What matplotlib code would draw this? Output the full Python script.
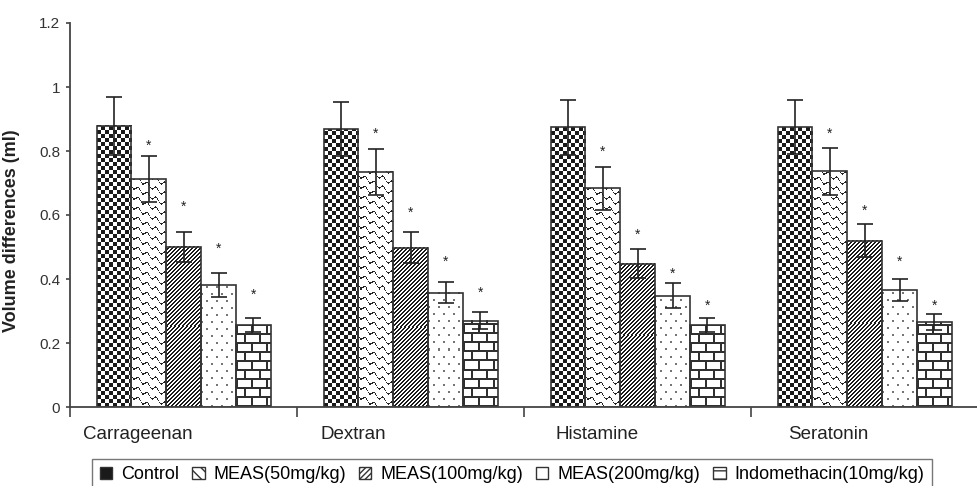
import numpy as np
import matplotlib
matplotlib.use("Agg")
import matplotlib.pyplot as plt
from matplotlib.colors import LinearSegmentedColormap
from matplotlib.patches import Rectangle

plt.rcParams['font.family'] = ['Liberation Sans', 'DejaVu Sans']
plt.rcParams['hatch.linewidth'] = 1.0

categories = ["Carrageenan", "Dextran", "Histamine", "Seratonin"]
series = ["Control", "MEAS(50mg/kg)", "MEAS(100mg/kg)", "MEAS(200mg/kg)",
          "Indomethacin(10mg/kg)"]

control = [0.879, 0.868, 0.874, 0.875]
meas50 = [0.712, 0.735, 0.683, 0.736]
meas100 = [0.501, 0.498, 0.448, 0.520]
meas200 = [0.381, 0.357, 0.348, 0.366]
indo = [0.256, 0.270, 0.256, 0.265]

err_control = [0.090, 0.085, 0.086, 0.084]
err_meas50 = [0.072, 0.071, 0.066, 0.074]
err_meas100 = [0.047, 0.048, 0.045, 0.052]
err_meas200 = [0.038, 0.033, 0.038, 0.034]
err_indo = [0.023, 0.026, 0.023, 0.025]

# where the significance stars sit (no star on control)
star_meas50 = [0.828, 0.866, 0.808, 0.866]
star_meas100 = [0.638, 0.618, 0.548, 0.624]
star_meas200 = [0.506, 0.465, 0.428, 0.465]
star_indo = [0.363, 0.369, 0.327, 0.327]

values = [control, meas50, meas100, meas200, indo]
errors = [err_control, err_meas50, err_meas100, err_meas200, err_indo]
stars = [None, star_meas50, star_meas100, star_meas200, star_indo]

ink = "#1a1a1a"
cmap = LinearSegmentedColormap.from_list("ink", ["white", ink])


def texture(kind, w, h):
    # pixel fill pattern for each series (1 = ink)
    r, c = np.mgrid[0:h, 0:w]
    if kind == 0:      # checkerboard
        m = ((c // 4 + r // 4) % 2 == 0) * 1.0
    elif kind == 1:    # wavy diagonal scales
        m = (((r + 0.55 * c + 2.0 * np.sin(2 * np.pi * c / 9)) % 10) < 1.5) * 0.95
    elif kind == 2:    # dense diagonal
        m = (((c - r) % 4) < 2) * 1.0
    elif kind == 3:    # sparse dots
        m = ((((r % 14) < 2) & ((c % 10) < 2)) |
             ((((r + 7) % 14) < 2) & (((c + 5) % 10) < 2))) * 0.6
    else:              # bricks
        row = r // 9
        m = (((r % 9) < 2) | (((c + 7 * (row % 2)) % 15) < 2)) * 0.9
    return m.astype(float)


fig = plt.figure(figsize=(9.78, 4.86), dpi=100)
ax = fig.add_axes([70 / 978, 79 / 486, 908 / 978, 384 / 486])
xmax = 908 / 230.5
ax.set_xlim(0, xmax)
ax.set_ylim(0, 1.2)

offset, bw = 0.117, 0.1536
px_x = ax.transData.transform((1, 0))[0] - ax.transData.transform((0, 0))[0]
px_y = ax.transData.transform((0, 1))[1] - ax.transData.transform((0, 0))[1]
groups = np.arange(len(categories))

for k, (vals, errs) in enumerate(zip(values, errors)):
    x0 = groups + offset + k * bw
    for xi, v in zip(x0, vals):
        tex = texture(k, int(round(bw * px_x)), int(round(v * px_y)))
        ax.imshow(tex, origin='lower', extent=(xi, xi + bw, 0, v), aspect='auto',
                  interpolation='nearest', cmap=cmap, vmin=0, vmax=1, zorder=1)
    xc = x0 + bw / 2
    ax.bar(xc, vals, bw, facecolor='none', edgecolor='#333333', linewidth=1.2, zorder=2)
    ax.errorbar(xc, vals, yerr=errs, fmt='none', ecolor='#222222', elinewidth=1.2,
                capsize=5.5, capthick=1.2, zorder=3)
    if stars[k] is not None:
        for xs, ys in zip(xc, stars[k]):
            ax.annotate('*', (xs, ys), xytext=(0, -5.5), textcoords='offset points',
                        ha='center', va='baseline', fontsize=10, color='#222222')

ax.set_xlim(0, xmax)
ax.set_ylim(0, 1.2)

label_shift = [-0.20, -0.25, -0.18, -0.16]
for i, name in enumerate(categories):
    ax.text(i + 0.5 + label_shift[i], -0.085, name, ha='center', va='center',
            fontsize=13.5, color='#222222', clip_on=False)

ax.set_xticks(np.arange(0, 5))
ax.set_xticklabels([])
ax.tick_params(axis='x', length=7, width=1.2, direction='out', color='#444444')
yt = np.arange(0, 1.21, 0.2)
ax.set_yticks(yt)
ax.set_yticklabels(['{:g}'.format(round(t, 1)) for t in yt])
ax.tick_params(axis='y', length=3, width=1.2, direction='out', pad=4,
               labelsize=11, color='#444444', labelcolor='#333333')
for s in ['top', 'right']:
    ax.spines[s].set_visible(False)
for s in ['left', 'bottom']:
    ax.spines[s].set_color('#444444')
    ax.spines[s].set_linewidth(1.3)

ax.set_ylabel('Volume differences (ml)', fontsize=13, fontweight='bold', color='#222222')
ax.yaxis.set_label_coords(-0.055, 0.46)

handles = [
    Rectangle((0, 0), 1, 1, facecolor=ink, edgecolor='#333333', lw=1.0),
    Rectangle((0, 0), 1, 1, facecolor='white', edgecolor='#333333', lw=1.0, hatch='\\\\\\'),
    Rectangle((0, 0), 1, 1, facecolor='white', edgecolor='#333333', lw=1.0, hatch='//////'),
    Rectangle((0, 0), 1, 1, facecolor='white', edgecolor='#333333', lw=1.0),
    Rectangle((0, 0), 1, 1, facecolor='white', edgecolor='#333333', lw=1.0, hatch='--'),
]
leg = fig.legend(handles, series, loc='upper center', bbox_to_anchor=(512 / 978, 27 / 486),
                 ncol=5, fontsize=13, frameon=True, fancybox=False, edgecolor='#555555',
                 borderpad=0.4, handlelength=0.7, handleheight=0.6, handletextpad=0.5,
                 columnspacing=0.7, borderaxespad=0)
leg.get_frame().set_linewidth(1.0)

fig.savefig('out.png', dpi=100)
